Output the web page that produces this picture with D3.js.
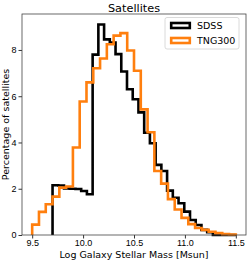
<!DOCTYPE html>
<html>
<head>
<meta charset="utf-8">
<script src="https://cdn.jsdelivr.net/npm/d3@7"></script>
<style>
  body { margin: 0; background: #fff; }
  svg { display: block; font-family: "DejaVu Sans", sans-serif; }
  .axis text { font-size: 9px; fill: #000; }
  .axis line { stroke: #000; stroke-width: 0.8; }
  .axis path { display: none; }
</style>
</head>
<body>
<div id="chart"></div>
<script>
// histogram bins (percent of satellites per bin)
var sdssStart = 9.7, sdssWidth = 0.05625;
var sdssPct = [2.15, 2.14, 2.01, 2.0, 1.99, 1.9, 1.76, 7.8, 9.1, 8.46, 8.32, 7.82, 7.07, 6.3,
               5.87, 5.3, 4.42, 3.97, 3.03, 2.77, 1.92, 1.61, 1.37, 1.01, 0.65, 0.43, 0.22, 0.12,
               0, 0, 0, 0];
var tngStart = 9.5, tngWidth = 2 / 30;
var tngPct = [0.45, 1.0, 1.33, 1.66, 2.05, 2.1, 3.78, 5.77, 6.6, 7.21, 7.63, 8.25, 8.62, 8.73,
              7.98, 7.1, 5.43, 4.44, 2.77, 2.22, 1.55, 1.1, 0.74, 0.47, 0.3, 0.22, 0.14, 0.08,
              0.04, 0.02];
var xTicks = [9.5, 10.0, 10.5, 11.0, 11.5];
var yTicks = [0, 2, 4, 6, 8];
var seriesNames = ["SDSS", "TNG300"];

(function drawHist() {
	var W = 249, H = 261;
	var margin = {top: 14, right: 3, bottom: 26, left: 22};
	var w = W - margin.left - margin.right,
	    h = H - margin.top - margin.bottom;

	var xScale = d3.scaleLinear().domain([9.4, 11.6]).range([0, w]);
	var yScale = d3.scaleLinear().domain([0, 9.555]).range([h, 0]);

	var svg = d3.select("#chart").append("svg")
		.attr("width", W).attr("height", H);
	var g = svg.append("g")
		.attr("transform", "translate(" + margin.left + "," + margin.top + ")");

	// turn bin heights into step outline points
	function stepPoints(start, width, vals) {
		var pts = [[start, 0]];
		vals.forEach(function(v, i) {
			pts.push([start + i * width, v]);
			pts.push([start + (i + 1) * width, v]);
		});
		pts.push([start + vals.length * width, 0]);
		return pts;
	}

	var line = d3.line()
		.x(function(d) { return xScale(d[0]); })
		.y(function(d) { return yScale(d[1]); });

	var series = [
		{name: seriesNames[0], color: "#000000", pts: stepPoints(sdssStart, sdssWidth, sdssPct)},
		{name: seriesNames[1], color: "#ff7f0e", pts: stepPoints(tngStart, tngWidth, tngPct)}
	];

	series.forEach(function(s) {
		g.append("path")
			.attr("d", line(s.pts))
			.attr("fill", "none")
			.attr("stroke", s.color)
			.attr("stroke-width", 2.6)
			.attr("stroke-linejoin", "miter");
	});

	// axes
	g.append("g")
		.attr("class", "axis")
		.attr("transform", "translate(0," + h + ")")
		.call(d3.axisBottom(xScale).tickValues(xTicks).tickSize(3.5).tickPadding(1.5)
			.tickFormat(d3.format(".1f")));
	g.append("g")
		.attr("class", "axis")
		.call(d3.axisLeft(yScale).tickValues(yTicks).tickSize(3.5).tickPadding(2)
			.tickFormat(d3.format("d")));

	// frame
	g.append("rect")
		.attr("width", w).attr("height", h)
		.attr("fill", "none").attr("stroke", "#444").attr("stroke-width", 0.8);

	svg.append("text")
		.attr("x", margin.left + w / 2).attr("y", 11.5)
		.attr("text-anchor", "middle").attr("font-size", 11.3)
		.text("Satellites");

	svg.append("text")
		.attr("x", margin.left + w / 2).attr("y", 257.5)
		.attr("text-anchor", "middle").attr("font-size", 9.5)
		.text("Log Galaxy Stellar Mass [Msun]");

	svg.append("text")
		.attr("transform", "translate(8.5," + (margin.top + h / 2) + ") rotate(-90)")
		.attr("text-anchor", "middle").attr("font-size", 9.5)
		.text("Percentage of satellites");

	// legend
	var lg = svg.append("g").attr("transform", "translate(165,17.5)");
	lg.append("rect")
		.attr("width", 74).attr("height", 31.5).attr("rx", 2)
		.attr("fill", "#fff").attr("fill-opacity", 0.8)
		.attr("stroke", "#d0d0d0").attr("stroke-width", 0.8);
	series.forEach(function(s, i) {
		lg.append("rect")
			.attr("x", 6.2).attr("y", 5.5 + i * 15)
			.attr("width", 18.6).attr("height", 5)
			.attr("fill", "none").attr("stroke", s.color).attr("stroke-width", 2.6);
		lg.append("text")
			.attr("x", 32).attr("y", 11.5 + i * 15)
			.attr("font-size", 9.5)
			.text(s.name);
	});
})();
</script>
</body>
</html>
